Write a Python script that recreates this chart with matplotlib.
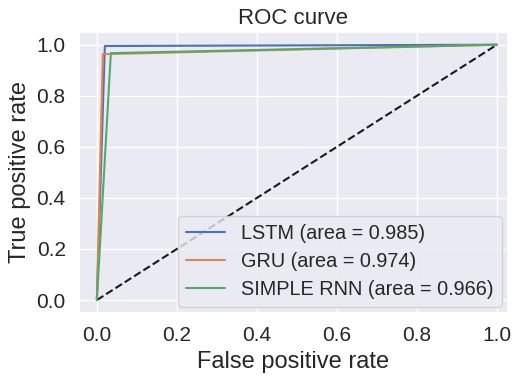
import matplotlib
matplotlib.use("Agg")
import matplotlib.pyplot as plt
import seaborn as sns

sns.set_theme(style="darkgrid")
plt.rcParams["font.family"] = ["Liberation Sans", "DejaVu Sans"]

# ROC points
lstm_fpr = [0.0, 0.02, 1.0]
lstm_tpr = [0.0, 0.995, 1.0]
gru_fpr = [0.0, 0.015, 1.0]
gru_tpr = [0.0, 0.963, 1.0]
rnn_fpr = [0.0, 0.035, 1.0]
rnn_tpr = [0.0, 0.967, 1.0]
labels = ["LSTM (area = 0.985)", "GRU (area = 0.974)", "SIMPLE RNN (area = 0.966)"]

fig = plt.figure(figsize=(5.12, 3.76), dpi=100)
ax = fig.add_axes([0.154, 0.168, 0.838, 0.747])

ax.plot([0, 1], [0, 1], "k--")
ax.plot(lstm_fpr, lstm_tpr, label=labels[0])
ax.plot(gru_fpr, gru_tpr, label=labels[1])
ax.plot(rnn_fpr, rnn_tpr, label=labels[2])

ax.set_xlim(-0.045, 1.0275)
ax.set_ylim(-0.05, 1.05)
ax.set_xlabel("False positive rate", fontsize=17)
ax.set_ylabel("True positive rate", fontsize=17)
ax.set_title("ROC curve", fontsize=16)
ax.tick_params(labelsize=15)
ax.legend(loc="lower right", fontsize=14.3, borderaxespad=0.3, labelspacing=0.45)

fig.savefig("out.png")
